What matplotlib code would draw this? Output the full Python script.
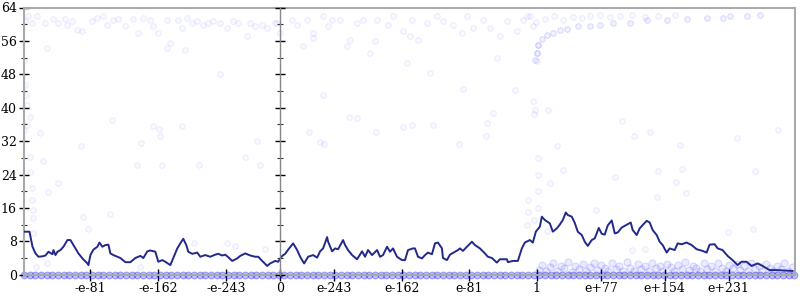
import matplotlib.pyplot as plt
from matplotlib.ticker import MultipleLocator

# x is the float-ordinal axis (0 = 0.0, 257 = 1.0), y is bits of error
tick_pos = [-190, -122, -54, 0, 54, 122, 189, 257, 321, 385, 449]
tick_labels = ["-e-81", "-e-162", "-e-243", "0", "e-243", "e-162", "e-81",
               "1", "e+77", "e+154", "e+231"]

# averaged error line
line_x = [-257, -251, -248, -245, -242, -238, -235, -232, -228, -227,
          -225, -223, -220, -217, -213, -210, -208, -205, -202, -198,
          -193, -192, -190, -187, -183, -181, -178, -175, -172, -170,
          -167, -160, -155, -150, -145, -140, -137, -133, -130, -125,
          -122, -118, -115, -110, -107, -103, -100, -97, -94, -92,
          -88, -83, -80, -75, -70, -65, -62, -58, -55, -52,
          -48, -43, -40, -35, -30, -25, -22, -18, -13, -10,
          -5, -2, 2, 5, 8, 13, 17, 20, 24, 28,
          33, 37, 40, 43, 47, 48, 52, 55, 58, 63,
          65, 68, 72, 77, 82, 85, 88, 92, 97, 100,
          103, 107, 110, 113, 117, 122, 125, 128, 133, 135,
          138, 142, 145, 148, 152, 155, 158, 162, 163, 167,
          170, 175, 178, 180, 183, 187, 192, 195, 200, 205,
          208, 212, 217, 220, 227, 228, 233, 238, 242, 245,
          250, 253, 256, 260, 262, 265, 270, 273, 277, 280,
          283, 286, 288, 292, 295, 298, 302, 305, 308, 312,
          315, 319, 322, 325, 328, 332, 335, 338, 342, 345,
          348, 351, 353, 357, 360, 363, 367, 370, 373, 377,
          380, 383, 387, 390, 395, 398, 402, 407, 412, 417,
          423, 427, 430, 435, 438, 443, 448, 453, 458, 462,
          467, 472, 478, 483, 490, 497, 505, 513]
line_y = [10.3, 10.3, 6.7, 5.1, 4.3, 4.4, 4.6, 5.5, 4.9, 5.9,
          4.7, 5.5, 5.9, 6.7, 8.3, 8.3, 7.5, 6.3, 5.1, 3.9,
          2.7, 2.3, 4.7, 6.0, 6.7, 7.7, 6.7, 7.1, 7.2, 5.1,
          4.7, 4.0, 3.0, 3.0, 4.0, 4.5, 4.0, 5.6, 5.8, 5.5,
          3.1, 3.5, 3.1, 2.3, 4.0, 6.3, 7.5, 8.6, 7.1, 5.5,
          5.0, 5.3, 4.3, 4.7, 4.3, 4.8, 5.0, 4.6, 4.8, 4.2,
          3.3, 3.9, 4.5, 5.1, 4.6, 4.3, 4.3, 3.3, 2.1, 2.7,
          3.3, 3.1, 4.5, 5.0, 6.0, 7.5, 5.9, 4.3, 2.7, 4.3,
          4.7, 4.1, 5.6, 6.3, 9.0, 7.9, 5.6, 6.3, 6.1, 8.3,
          7.1, 5.9, 4.7, 3.7, 5.6, 4.3, 5.9, 4.7, 5.9, 4.3,
          4.7, 6.7, 5.5, 6.3, 4.3, 3.5, 3.5, 5.9, 6.3, 6.3,
          4.3, 3.9, 4.7, 5.3, 4.9, 7.5, 7.7, 6.3, 4.0, 3.5,
          4.8, 5.5, 5.9, 6.3, 5.7, 6.7, 7.9, 7.1, 6.3, 5.1,
          4.3, 4.0, 2.9, 3.7, 3.7, 3.0, 3.3, 3.3, 6.3, 7.7,
          8.3, 7.7, 10.3, 11.5, 13.9, 13.1, 12.3, 10.3, 11.1, 12.0,
          13.1, 14.9, 14.3, 13.9, 12.4, 10.3, 9.5, 7.9, 6.9, 8.3,
          8.7, 11.2, 9.8, 9.6, 11.8, 13.0, 9.9, 10.1, 11.3, 11.7,
          12.1, 12.5, 10.7, 9.5, 11.1, 11.9, 12.9, 12.5, 10.7, 9.5,
          7.9, 7.1, 5.3, 6.3, 5.9, 7.5, 7.3, 7.7, 7.1, 6.1,
          5.7, 5.3, 7.2, 7.3, 6.3, 5.9, 4.5, 3.5, 2.3, 3.1,
          3.1, 2.1, 2.7, 2.1, 1.1, 1.1, 1.0, 0.9]

# sample points near the top (almost all bits wrong)
top_x = [-255, -252, -248, -243, -235, -227, -222, -215, -213, -208,
         -203, -198, -188, -183, -177, -173, -167, -162, -155, -147,
         -142, -137, -130, -127, -122, -113, -110, -102, -98, -93,
         -88, -83, -77, -72, -67, -60, -53, -47, -42, -33,
         -30, -25, -18, -13, -5, -3, 0, 12, 17, 23,
         27, 33, 33, 43, 48, 52, 60, 67, 70, 77,
         83, 90, 95, 97, 108, 113, 123, 130, 132, 138,
         147, 157, 163, 173, 182, 187, 193, 203, 210, 220,
         227, 237, 247, 253, 243, 250, 256, 265, 274, 283,
         293, 302, 310, 320, 330, 340, 352, 365, 378, 395]
top_y = [60.7, 61.9, 60.3, 61.9, 60.3, 61.2, 60.3, 61.2, 59.9, 60.7,
         58.7, 58.3, 60.7, 61.5, 61.9, 59.9, 61.1, 61.2, 59.5, 61.2,
         57.9, 61.5, 61.1, 59.5, 57.9, 61.1, 55.5, 61.1, 59.1, 61.5,
         60.3, 60.7, 59.9, 60.3, 60.7, 60.3, 59.1, 60.7, 60.3, 57.1,
         60.3, 59.5, 59.9, 59.1, 60.3, 60.3, 57.9, 61.1, 59.9, 54.7,
         61.1, 57.9, 56.7, 61.9, 59.5, 61.1, 61.1, 54.7, 56.3, 60.3,
         61.1, 53.1, 55.9, 61.1, 59.9, 61.9, 58.3, 57.1, 61.1, 56.2,
         60.3, 61.9, 60.7, 59.9, 57.9, 61.9, 59.1, 61.1, 59.1, 57.1,
         60.7, 58.3, 61.9, 59.5, 61.1, 61.9, 60.5, 61.3, 61.9, 61.1,
         61.7, 61.5, 61.9, 62.1, 61.7, 61.9, 62.1, 61.8, 62.0, 62.2]

# the upward curve of samples to the right of 1
curve_x = [255, 257, 258, 262, 267, 273, 280, 287, 298, 310,
           320, 333, 350, 367, 387, 407, 427, 443, 450, 467, 480]
curve_y = [51.5, 53.1, 55.1, 56.4, 57.5, 58.0, 58.5, 58.8, 59.5, 59.6,
           59.9, 60.3, 60.4, 60.9, 61.1, 61.2, 61.5, 61.5, 61.9, 62.0, 62.1]

# scattered samples in the middle
stray_x = [-233, -113, -95, -60, -168, -127, -121, -120, -98, -240,
           -250, -257, -255, -254, -253, -253, -257, -199, -139, -23,
           -250, -250, -248, -248, -247, -247, -247, -237, -222, -232,
           -197, -192, -170, -143, -118, -81, -35, -20, -86, -53,
           -15, -45, -244, -233, -140, 127, 150, 217, 183, 235,
           43, 69, 77, 213, 123, 132, 153, 96, 29, 207,
           206, 40, 44, 179, 253, 255, 254, 258, 257, 257,
           268, 258, 258, 258, 258, 248, 248, 247, 254, 267,
           342, 354, 370, 277, 400, 457, 498, 283, 270, 335,
           378, 402, 396, 406, 475, 377, 316, 448, 473, 352, 365]
stray_y = [54.3, 54.3, 53.9, 48.1, 37.1, 35.7, 35.0, 33.3, 35.7, 34.0,
           37.7, 51.1, 45.5, 43.1, 40.7, 35.9, 34.6, 30.9, 31.5, 32.0,
           28.3, 24.7, 20.7, 17.9, 15.5, 13.5, 9.9, 27.3, 21.9, 19.9,
           13.9, 10.9, 14.5, 26.3, 26.3, 26.3, 28.2, 26.3, 7.5, 7.5,
           6.1, 6.9, 1.9, 2.7, 1.8, 50.7, 48.3, 51.9, 44.5, 44.3,
           43.1, 37.7, 37.5, 38.7, 35.3, 35.9, 35.9, 34.1, 34.1, 36.4,
           33.2, 31.9, 31.4, 31.2, 41.5, 39.4, 38.4, 55.1, 53.1, 51.3,
           39.4, 28.0, 24.0, 20.0, 16.0, 17.9, 15.0, 12.0, 13.0, 10.5,
           36.9, 33.3, 34.1, 30.9, 31.0, 32.8, 34.7, 25.1, 21.9, 23.5,
           24.9, 25.3, 22.2, 19.5, 24.9, 18.7, 15.4, 10.3, 11.0, 5.8, 6.1]

# samples that are exact (0 bits) along the whole range
zero_x = [-256, -250, -245, -239, -233, -228, -222, -216, -211, -205,
          -199, -194, -188, -182, -177, -171, -165, -160, -154, -148,
          -143, -137, -131, -126, -120, -114, -109, -103, -97, -92,
          -86, -80, -75, -69, -63, -58, -52, -46, -41, -35,
          -29, -24, -18, -12, -7, -1, 4, 10, 16, 21,
          27, 33, 38, 44, 50, 55, 61, 67, 72, 78,
          84, 89, 95, 101, 106, 112, 118, 123, 129, 135,
          140, 146, 152, 157, 163, 169, 174, 180, 186, 191,
          197, 203, 208, 214, 220, 225, 231, 237, 242, 248,
          254, 259, 265, 271, 276, 282, 288, 293, 299, 305,
          310, 316, 322, 327, 333, 339, 344, 350, 356, 361,
          367, 373, 378, 384, 390, 395, 401, 407, 412, 418,
          424, 429, 435, 441, 446, 452, 458, 463, 469, 475,
          480, 486, 492, 497, 503, 509, 514]
zero_y = [0.0] * len(zero_x)

# low-error band to the right of 1
band_x = [259, 262, 266, 270, 273, 277, 281, 284, 288, 292,
          295, 299, 303, 306, 310, 314, 317, 321, 325, 328,
          332, 336, 339, 343, 347, 350, 354, 358, 361, 365,
          369, 372, 376, 380, 383, 387, 391, 394, 398, 402,
          405, 409, 413, 416, 420, 424, 427, 431, 435, 438,
          442, 446, 449, 453, 457, 460, 464, 468, 471, 475,
          479, 482, 486, 490, 493, 497, 501, 504, 508, 512]
band_y = [1.2, 2.4, 0.8, 1.9, 2.8, 1.0, 2.2, 1.5, 3.1, 0.7,
          2.0, 1.3, 2.6, 0.9, 1.8, 2.9, 1.1, 2.3, 1.6, 0.8,
          2.7, 1.4, 2.1, 0.9, 3.0, 1.7, 1.0, 2.5, 1.3, 2.0,
          0.8, 2.8, 1.5, 2.2, 1.0, 2.6, 1.8, 0.9, 2.4, 1.4,
          3.0, 1.1, 2.0, 1.6, 0.8, 2.7, 1.3, 2.2, 1.0, 2.9,
          1.7, 0.9, 2.3, 1.5, 2.6, 1.1, 2.0, 0.8, 2.8, 1.4,
          2.2, 1.0, 2.5, 1.6, 0.9, 2.1, 1.3, 2.7, 1.0, 1.8]

plt.rcParams["font.family"] = "DejaVu Serif"
plt.rcParams["font.size"] = 9

fig = plt.figure(figsize=(8, 3), dpi=100)
ax = fig.add_axes([23.5 / 800, 25.3 / 300, 771 / 800, 267.2 / 300])

pts = dict(s=16, facecolor=(0, 0, 1, 0.025), edgecolor=(0, 0, 1, 0.07),
           linewidths=0.8, zorder=2)
ax.scatter(top_x, top_y, **pts)
ax.scatter(curve_x, curve_y, s=16, facecolor=(0, 0, 1, 0.05),
           edgecolor=(0, 0, 1, 0.12), linewidths=0.8, zorder=2)
ax.scatter(stray_x, stray_y, **pts)
ax.scatter(band_x, band_y, s=26, facecolor=(0, 0, 1, 0.08),
           edgecolor=(0, 0, 1, 0.12), linewidths=0.8, zorder=2)
ax.scatter(zero_x, zero_y, s=24, facecolor=(0, 0, 1, 0.25),
           edgecolor=(0, 0, 1, 0.3), linewidths=0.8, zorder=2, clip_on=False)

ax.plot(line_x, line_y, color="#22288c", linewidth=1.4, zorder=3)

ax.set_xlim(-257, 515)
ax.set_ylim(0, 64)
ax.set_xticks(tick_pos)
ax.set_xticklabels(tick_labels)
ax.yaxis.set_major_locator(MultipleLocator(8))
ax.yaxis.set_minor_locator(MultipleLocator(4))

for s in ax.spines.values():
    s.set_color("#aaaaaa")
    s.set_linewidth(1.5)
ax.tick_params(axis="y", which="major", direction="inout", length=7.5,
               width=1, color="black", left=True, right=True,
               labelright=False, pad=1)
ax.tick_params(axis="y", which="minor", direction="inout", length=4,
               width=0.8, color="#333333", left=True, right=True)
ax.tick_params(axis="x", direction="inout", length=8, width=1,
               color="black", pad=1)

# the vertical axis drawn through x = 0
ax2 = ax.twinx()
ax2.set_ylim(0, 64)
for name in ["top", "bottom", "right"]:
    ax2.spines[name].set_visible(False)
ax2.spines["left"].set_position(("data", 0))
ax2.spines["left"].set_color("#888888")
ax2.spines["left"].set_linewidth(1)
ax2.yaxis.tick_left()
ax2.yaxis.set_major_locator(MultipleLocator(8))
ax2.yaxis.set_minor_locator(MultipleLocator(4))
ax2.tick_params(axis="y", which="major", direction="inout", length=7.5,
                width=1, color="black", labelleft=False)
ax2.tick_params(axis="y", which="minor", direction="inout", length=4,
                width=0.8, color="#333333", labelleft=False)

fig.savefig("out.png", dpi=100)
